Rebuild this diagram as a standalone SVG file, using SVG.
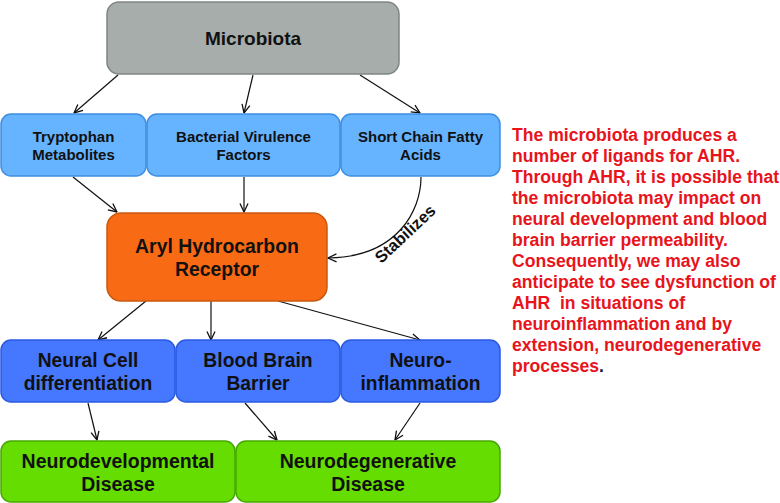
<svg xmlns="http://www.w3.org/2000/svg" width="780" height="503" viewBox="0 0 780 503">
<defs>
<marker id="ah" viewBox="0 0 10 10" refX="9.5" refY="5" markerWidth="10" markerHeight="10" markerUnits="userSpaceOnUse" orient="auto">
<path d="M1,1 L9.5,5 L1,9" fill="none" stroke="#111" stroke-width="1.3"/>
</marker>
<style>
.t{font-family:"Liberation Sans",Arial,sans-serif;font-weight:bold;fill:#111;text-anchor:middle}
.c{fill:none;stroke:#111;stroke-width:1.2}
.gray{fill:#a6adaa;stroke:#7f8682;stroke-width:1.5}
.lb{fill:#66b3ff;stroke:#3f8fe0;stroke-width:1.5}
.or{fill:#f96a14;stroke:#c85a12;stroke-width:1.5}
.bl{fill:#4577ff;stroke:#2a5ae0;stroke-width:1.5}
.gr{fill:#66dd00;stroke:#45a800;stroke-width:1.5}
.red{font-family:"Liberation Sans",Arial,sans-serif;font-weight:bold;fill:#e8141c;font-size:17.6px}
</style>
</defs>
<rect width="780" height="503" fill="#fff"/>
<g id="connectors">
<line class="c" x1="118" y1="75" x2="74" y2="113" marker-end="url(#ah)"/>
<line class="c" x1="253" y1="75" x2="244" y2="113" marker-end="url(#ah)"/>
<line class="c" x1="360" y1="75" x2="420" y2="113" marker-end="url(#ah)"/>
<line class="c" x1="73" y1="177" x2="117" y2="212" marker-end="url(#ah)"/>
<line class="c" x1="244" y1="177" x2="244" y2="212" marker-end="url(#ah)"/>
<path class="c" d="M421,177 C421,210 398,257 328,258" marker-end="url(#ah)"/>
<text class="t" font-size="16.5" transform="translate(409,238) rotate(-43)">Stabilizes</text>
<line class="c" x1="146" y1="301" x2="98" y2="340" marker-end="url(#ah)"/>
<line class="c" x1="211" y1="301" x2="211" y2="340" marker-end="url(#ah)"/>
<line class="c" x1="278" y1="301" x2="420" y2="340" marker-end="url(#ah)"/>
<line class="c" x1="88" y1="403" x2="97" y2="440" marker-end="url(#ah)"/>
<line class="c" x1="245" y1="403" x2="277" y2="440" marker-end="url(#ah)"/>
<line class="c" x1="420" y1="403" x2="395" y2="440" marker-end="url(#ah)"/>
</g>
<g id="microbiota">
<rect class="gray" x="107" y="2" width="292" height="72" rx="12"/>
<text class="t" font-size="19" x="253" y="45">Microbiota</text>
</g>
<g id="tryptophan">
<rect class="lb" x="1" y="114" width="145" height="62" rx="10"/>
<text class="t" font-size="15" x="73.5" y="142">Tryptophan</text>
<text class="t" font-size="15" x="73.5" y="160">Metabolites</text>
</g>
<g id="virulence">
<rect class="lb" x="147" y="114" width="193" height="62" rx="10"/>
<text class="t" font-size="15" x="243.5" y="142">Bacterial Virulence</text>
<text class="t" font-size="15" x="243.5" y="160">Factors</text>
</g>
<g id="scfa">
<rect class="lb" x="341" y="114" width="159" height="62" rx="10"/>
<text class="t" font-size="15" x="420.5" y="142">Short Chain Fatty</text>
<text class="t" font-size="15" x="420.5" y="160">Acids</text>
</g>
<g id="ahr">
<rect class="or" x="107" y="213" width="220" height="88" rx="14"/>
<text class="t" font-size="19.4" x="217" y="253">Aryl Hydrocarbon</text>
<text class="t" font-size="19.4" x="217" y="276">Receptor</text>
</g>
<g id="neuralcell">
<rect class="bl" x="1" y="340" width="174" height="62" rx="10"/>
<text class="t" font-size="19.3" x="88" y="367">Neural Cell</text>
<text class="t" font-size="19.3" x="88" y="390">differentiation</text>
</g>
<g id="bbb">
<rect class="bl" x="176" y="340" width="164" height="62" rx="10"/>
<text class="t" font-size="19.3" x="258" y="367">Blood Brain</text>
<text class="t" font-size="19.3" x="258" y="390">Barrier</text>
</g>
<g id="neuroinflammation">
<rect class="bl" x="341" y="340" width="159" height="62" rx="10"/>
<text class="t" font-size="19.3" x="420.5" y="367">Neuro-</text>
<text class="t" font-size="19.3" x="420.5" y="390">inflammation</text>
</g>
<g id="neurodevelopmental">
<rect class="gr" x="1" y="441" width="234" height="61" rx="10"/>
<text class="t" font-size="19.5" x="118" y="468">Neurodevelopmental</text>
<text class="t" font-size="19.5" x="118" y="491">Disease</text>
</g>
<g id="neurodegenerative">
<rect class="gr" x="236" y="441" width="264" height="61" rx="10"/>
<text class="t" font-size="19.5" x="368" y="468">Neurodegenerative</text>
<text class="t" font-size="19.5" x="368" y="491">Disease</text>
</g>
<g id="note">
<text class="red" x="512" y="141">The microbiota produces a</text>
<text class="red" x="512" y="162">number of ligands for AHR.</text>
<text class="red" x="512" y="183">Through AHR, it is possible that</text>
<text class="red" x="512" y="204">the microbiota may impact on</text>
<text class="red" x="512" y="225">neural development and blood</text>
<text class="red" x="512" y="246">brain barrier permeability.</text>
<text class="red" x="512" y="267">Consequently, we may also</text>
<text class="red" x="512" y="288">anticipate to see dysfunction of</text>
<text class="red" x="512" y="309" xml:space="preserve">AHR  in situations of</text>
<text class="red" x="512" y="330">neuroinflammation and by</text>
<text class="red" x="512" y="351">extension, neurodegenerative</text>
<text class="red" x="512" y="372">processes<tspan fill="#1a1a3a">.</tspan></text>
</g>
</svg>
